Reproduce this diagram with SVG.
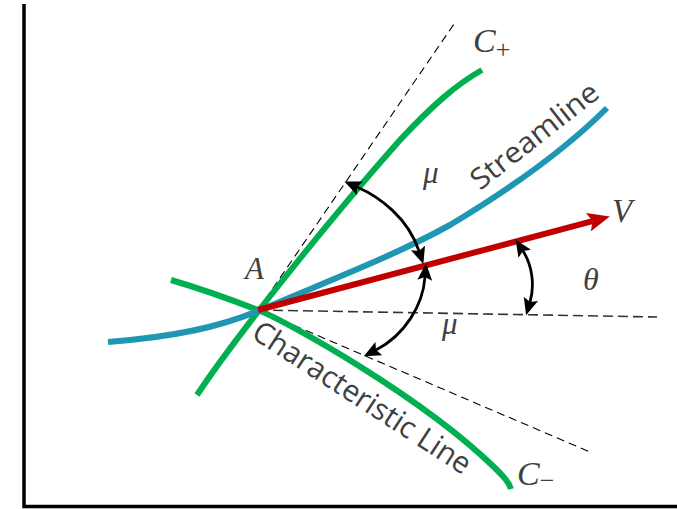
<svg xmlns="http://www.w3.org/2000/svg" width="677" height="509" viewBox="0 0 677 509">
<style>
.ax{stroke:#000;stroke-width:3.5;fill:none}
.dash{stroke:#000;stroke-width:1.1;fill:none;stroke-dasharray:8 5}
.dash2{stroke:#333;stroke-width:1.6;fill:none;stroke-dasharray:10 5}
.grn{stroke:#00b050;stroke-width:6;fill:none}
.teal{stroke:#1f97b2;stroke-width:6;fill:none}
.red{stroke:#c00000;stroke-width:6;fill:none}
.arc{stroke:#000;stroke-width:2.8;fill:none;marker-start:url(#ah);marker-end:url(#ah)}
.lbl{font-family:"Open Sans","Noto Sans",sans-serif;fill:#404040}
.m{font-family:"Liberation Serif","DejaVu Serif",serif;font-style:italic;fill:#404040}
</style>
<defs>
<marker id="ah" markerUnits="userSpaceOnUse" markerWidth="18" markerHeight="15" refX="3" refY="7" orient="auto-start-reverse" viewBox="0 0 17 14">
<path d="M0,0 L16,7 L0,14 L3,7 z" fill="#000"/>
</marker>
<marker id="rh" markerUnits="userSpaceOnUse" markerWidth="24" markerHeight="19" refX="4" refY="9" orient="auto" viewBox="0 0 22 18">
<path d="M0,0 L21,9 L0,18 L4,9 z" fill="#c00000"/>
</marker>
</defs>
<rect width="677" height="509" fill="#fff"/>
<g id="axes">
<path class="ax" d="M24,4 V506.5 H677"/>
</g>
<g id="connectors">
<path class="dash" d="M258,310 L454,24"/>
<path class="dash2" d="M258,310 L657,317"/>
<path class="dash" d="M258,310 L590,452"/>
</g>
<g id="c-plus">
<path class="grn" d="M197,395 C230,345 320,230 400,140 C430,108 455,85 482,70"/>
<text class="m" x="473" y="52" font-size="34">C<tspan font-size="26" font-style="normal" dy="6">+</tspan></text>
</g>
<g id="c-minus">
<path class="grn" d="M171,280 C205,290 232,300 258,310 C284,320 420,395 495,468 C503,476 509,482 511,489"/>
<text class="m" x="517" y="485" font-size="34">C<tspan font-size="26" font-style="normal" dy="4">−</tspan></text>
<text class="lbl" font-size="30" transform="translate(250,337) rotate(33)" textLength="254" lengthAdjust="spacingAndGlyphs">Characteristic Line</text>
</g>
<g id="streamline">
<path class="teal" d="M108,342 C175,337 220,327 258,311 C330,280 390,258 450,225 C520,183 570,145 607,108"/>
<text class="lbl" font-size="29" transform="translate(480,191) rotate(-38)" textLength="154" lengthAdjust="spacingAndGlyphs">Streamline</text>
</g>
<g id="velocity">
<path class="red" d="M258,310 L592.5,221.1" marker-end="url(#rh)"/>
<text class="m" x="612" y="222" font-size="33">V</text>
</g>
<g id="point-a">
<text class="m" x="245" y="279" font-size="31">A</text>
</g>
<g id="angle-mu-upper">
<path class="arc" d="M357,187 C380,197 408,218 419,251"/>
<text class="m" x="423" y="183" font-size="31">μ</text>
</g>
<g id="angle-mu-lower">
<path class="arc" d="M425,277 C423,305 405,335 376,350"/>
<text class="m" x="442" y="334" font-size="31">μ</text>
</g>
<g id="angle-theta">
<path class="arc" d="M523,251 C532,265 535,285 530,302"/>
<text class="m" x="583" y="290" font-size="32">θ</text>
</g>
</svg>
